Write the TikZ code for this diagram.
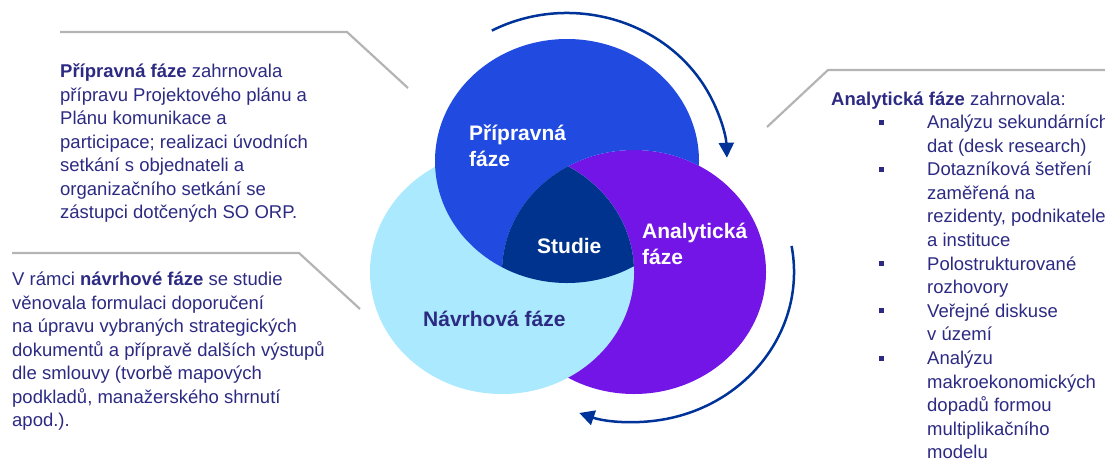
\documentclass[tikz,border=0pt]{standalone}
\usepackage{fontspec}
\setmainfont{Liberation Sans}
\usetikzlibrary{arrows.meta,calc}
\definecolor{pripblue}{RGB}{33,75,224}
\definecolor{navrblue}{RGB}{171,233,254}
\definecolor{analpurple}{RGB}{115,21,230}
\definecolor{studnavy}{RGB}{0,51,141}
\definecolor{arrownavy}{RGB}{0,51,153}
\definecolor{txtindigo}{RGB}{44,42,130}
\definecolor{leadgray}{RGB}{180,180,180}
\newcommand{\blt}{\llap{\rule[4pt]{5pt}{5pt}\hspace{43pt}}}

\begin{document}
\begin{tikzpicture}[x=1pt,y=-1pt,
  sidetext/.style={anchor=base west,inner sep=0pt,align=left,text=txtindigo,
    font=\fontsize{18.5}{23.5}\selectfont},
  phaselabel/.style={anchor=base west,inner sep=0pt,align=left,
    font=\fontsize{21}{26.5}\selectfont\bfseries},
  leader/.style={leadgray,line width=2.2pt},
  turnarrow/.style={arrownavy,line width=2.5pt,-{Triangle[length=15pt,width=15pt]}}]
\useasboundingbox (0,0) rectangle (1105,461);

% Circle centres
\coordinate (prip) at (567,161);
\coordinate (navr) at (502,272);
\coordinate (anal) at (634,272);

% Circles: purple under light blue, blue over light blue but under purple
\fill[analpurple] (anal) ellipse [x radius=132, y radius=122];
\fill[navrblue] (navr) ellipse [x radius=132, y radius=122];
\begin{scope}[even odd rule]
  \clip (0,0) rectangle (1105,461) (anal) ellipse [x radius=132, y radius=122];
  \fill[pripblue] (prip) ellipse [x radius=132, y radius=122];
\end{scope}
\begin{scope}
  \clip (prip) ellipse [x radius=132, y radius=122];
  \clip (anal) ellipse [x radius=132, y radius=122];
  \fill[studnavy] (navr) ellipse [x radius=132, y radius=122];
\end{scope}

% Labels in the circles (base = last line)
\node[phaselabel,text=white] (priplbl) at (469,166.5) {Přípravná\\fáze};
\node[phaselabel,text=white] (studlbl) at (537,253) {Studie};
\node[phaselabel,text=white] (anallbl) at (642,264.5) {Analytická\\fáze};
\node[phaselabel,text=txtindigo] (navrlbl) at (423,326) {Návrhová fáze};

% Cycle arrows
\coordinate (topc) at (567,163);
\coordinate (botc) at (634,272);
\draw[turnarrow] ($(topc)+(-118:160 and 150)$) arc[start angle=-118, end angle=-2, x radius=160, y radius=150];
\draw[turnarrow] ($(botc)+(-10:160 and 150)$) arc[start angle=-10, end angle=110, x radius=160, y radius=150];

% Leader lines
\coordinate (pripend) at (60,32);
\coordinate (pripbend) at (347,32);
\coordinate (priptip) at (408,88);
\coordinate (navrend) at (12,253);
\coordinate (navrbend) at (299,253);
\coordinate (navrtip) at (360,309);
\coordinate (analtip) at (767,127);
\coordinate (analbend) at (828,70);
\coordinate (analend) at (1105,70);
\draw[leader] (pripend) -- (pripbend) -- (priptip);
\draw[leader] (navrend) -- (navrbend) -- (navrtip);
\draw[leader] (analtip) -- (analbend) -- (analend);

% Side texts (base = last line)
\node[sidetext] (priptxt) at (60,218.5) {\textbf{Přípravná fáze} zahrnovala\\přípravu Projektového plánu a\\Plánu komunikace a\\participace; realizaci úvodních\\setkání s objednateli a\\organizačního setkání se\\zástupci dotčených SO ORP.};
\node[sidetext] (navrtxt) at (12,426.5) {V rámci \textbf{návrhové fáze} se studie\\věnovala formulaci doporučení\\na úpravu vybraných strategických\\dokumentů a přípravě dalších výstupů\\dle smlouvy (tvorbě mapových\\podkladů, manažerského shrnutí\\apod.).};
\node[sidetext] (analhead) at (831,105) {\textbf{Analytická fáze} zahrnovala:};
\node[sidetext,font=\fontsize{18.5}{23.6}\selectfont] (analtxt) at (927,458.9) {\blt Analýzu sekundárních\\dat (desk research)\\\blt Dotazníková šetření\\zaměřená na\\rezidenty, podnikatele\\a instituce\\\blt Polostrukturované\\rozhovory\\\blt Veřejné diskuse\\v území\\\blt Analýzu\\makroekonomických\\dopadů formou\\multiplikačního\\modelu};
\end{tikzpicture}
\end{document}
